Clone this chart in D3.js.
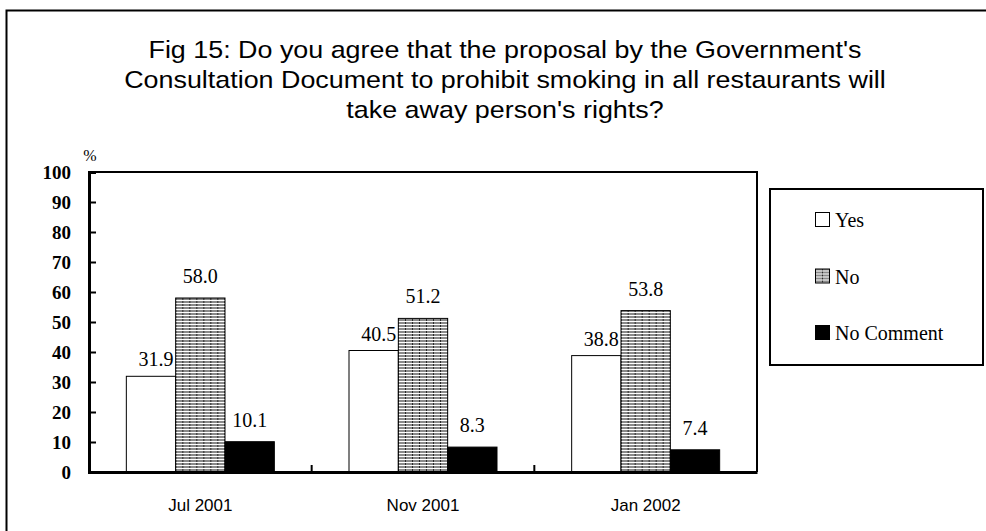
<!DOCTYPE html>
<html>
<head>
<meta charset="utf-8">
<script src="https://cdn.jsdelivr.net/npm/d3@7"></script>
<style>
  html, body { margin: 0; padding: 0; background: #fff; }
  svg { display: block; }
</style>
</head>
<body>
<svg id="chart" width="986" height="531"></svg>
<script>
// Survey waves and answers
const waves = ["Jul 2001", "Nov 2001", "Jan 2002"];
const answers = ["Yes", "No", "No Comment"];
const yesValues = [31.9, 40.5, 38.8];
const noValues = [58.0, 51.2, 53.8];
const noCommentValues = [10.1, 8.3, 7.4];
const yTicks = [0, 10, 20, 30, 40, 50, 60, 70, 80, 90, 100];
const titleLines = [
  "Fig 15: Do you agree that the proposal by the Government's",
  "Consultation Document to prohibit smoking in all restaurants will",
  "take away person's rights?"
];

const seriesValues = [yesValues, noValues, noCommentValues];

const svg = d3.select("#chart");
const serif = "'Liberation Serif', 'Times New Roman', serif";
const sans = "'Liberation Sans', Arial, sans-serif";

// Hatched fill for the "No" series
const defs = svg.append("defs");
const pat = defs.append("pattern")
  .attr("id", "hatchNo")
  .attr("patternUnits", "userSpaceOnUse")
  .attr("width", 7).attr("height", 3);
pat.append("rect").attr("width", 7).attr("height", 3).attr("fill", "#8a8a8a");
pat.append("rect").attr("width", 7).attr("height", 1).attr("fill", "#ffffff");
pat.append("rect").attr("x", 0).attr("y", 1).attr("width", 1).attr("height", 2).attr("fill", "#2a2a2a");

const fills = ["#ffffff", "url(#hatchNo)", "#000000"];

// Outer frame
svg.append("rect")
  .attr("x", 6.5).attr("y", 10.5)
  .attr("width", 990).attr("height", 540)
  .attr("fill", "none").attr("stroke", "#000").attr("stroke-width", 2);

// Title, slightly widened horizontally around its centre
const title = svg.append("text")
  .attr("text-anchor", "middle")
  .attr("font-family", sans)
  .attr("font-size", 24)
  .attr("fill", "#000")
  .attr("transform", "translate(505,0) scale(1.12,1)");
titleLines.forEach((line, i) => {
  title.append("tspan").attr("x", 0).attr("y", 58 + i * 30).text(line);
});

// Plot area
const plot = { left: 89, top: 172, right: 757, bottom: 472 };

const x0 = d3.scaleBand().domain(waves).range([plot.left, plot.right]).paddingInner(0).paddingOuter(0);
const x1 = d3.scaleBand().domain(answers).range([0, 148]).padding(0);
const y = d3.scaleLinear().domain([0, 100]).range([plot.bottom, plot.top]);

// Bars
const groups = svg.append("g").selectAll("g")
  .data(waves)
  .join("g")
  .attr("transform", d => `translate(${x0(d) + (x0.bandwidth() - 148) / 2},0)`);

groups.each(function (wave, wi) {
  const g = d3.select(this);
  answers.forEach((ans, ai) => {
    const v = seriesValues[ai][wi];
    g.append("rect")
      .attr("x", x1(ans))
      .attr("y", y(v))
      .attr("width", x1.bandwidth())
      .attr("height", y(0) - y(v))
      .attr("fill", fills[ai])
      .attr("stroke", "#000")
      .attr("stroke-width", 1);
    g.append("text")
      .attr("x", x1(ans) + x1.bandwidth() / 2 + (ai === 0 ? 5 : 0))
      .attr("y", y(v) - (ai === 0 ? 10 : 15))
      .attr("text-anchor", "middle")
      .attr("font-family", serif)
      .attr("font-size", 20)
      .attr("fill", "#000")
      .text(v.toFixed(1));
  });
});

// Plot border (top and right)
svg.append("path")
  .attr("d", `M${plot.left},${plot.top}H${plot.right}V${plot.bottom}`)
  .attr("fill", "none").attr("stroke", "#000").attr("stroke-width", 2);

// Y axis with inward ticks
const yAxis = svg.append("g")
  .attr("transform", `translate(${plot.left},0)`)
  .call(d3.axisRight(y).tickValues(yTicks).tickSize(7).tickFormat(""));
yAxis.select(".domain").attr("stroke-width", 3);
yAxis.selectAll(".tick line").attr("stroke-width", 2);
yAxis.selectAll(".tick").filter(d => d === 0 || d === 100).select("line").remove();

svg.append("g").selectAll("text")
  .data(yTicks)
  .join("text")
  .attr("x", 71)
  .attr("y", d => y(d) + 7)
  .attr("text-anchor", "end")
  .attr("font-family", serif)
  .attr("font-weight", "bold")
  .attr("font-size", 19)
  .attr("fill", "#000")
  .text(d => d);

svg.append("text")
  .attr("x", 90).attr("y", 161)
  .attr("text-anchor", "middle")
  .attr("font-family", serif)
  .attr("font-size", 16)
  .text("%");

// X axis with inward ticks at category boundaries
const xAxis = svg.append("g")
  .attr("transform", `translate(0,${plot.bottom})`)
  .call(d3.axisBottom(x0).tickSize(0).tickFormat(""));
xAxis.select(".domain").attr("stroke-width", 3);
xAxis.selectAll(".tick").remove();
xAxis.selectAll("line.boundary")
  .data(waves.slice(1))
  .join("line")
  .attr("class", "boundary")
  .attr("x1", d => x0(d)).attr("x2", d => x0(d))
  .attr("y1", 0).attr("y2", -7)
  .attr("stroke", "#000").attr("stroke-width", 2);

svg.append("g").selectAll("text")
  .data(waves)
  .join("text")
  .attr("x", d => x0(d) + x0.bandwidth() / 2)
  .attr("y", 511)
  .attr("text-anchor", "middle")
  .attr("font-family", sans)
  .attr("font-size", 17)
  .text(d => d);

// Legend
svg.append("rect")
  .attr("x", 770).attr("y", 189)
  .attr("width", 213).attr("height", 176)
  .attr("fill", "#fff").attr("stroke", "#000").attr("stroke-width", 2);

const legend = svg.append("g").selectAll("g")
  .data(answers)
  .join("g")
  .attr("transform", (d, i) => `translate(815,${220 + i * 56.5})`);
legend.append("rect")
  .attr("x", 0.5).attr("y", -7.5)
  .attr("width", 14).attr("height", 14)
  .attr("fill", (d, i) => fills[i])
  .attr("stroke", "#000").attr("stroke-width", 1);
legend.append("text")
  .attr("x", 20).attr("y", 7)
  .attr("font-family", serif)
  .attr("font-size", 20)
  .text(d => d);
</script>
</body>
</html>
